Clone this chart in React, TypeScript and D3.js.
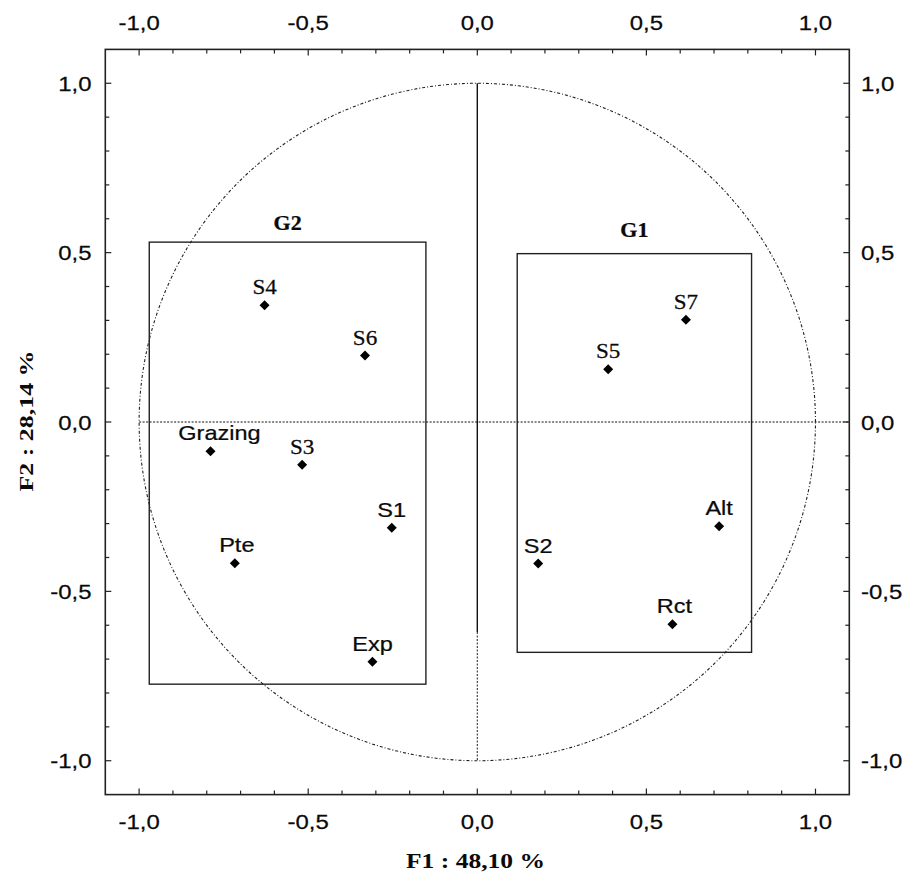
import React from "react";
import * as d3 from "d3";

const pointNames = ["S4", "S6", "Grazing", "S3", "S1", "Pte", "Exp", "S7", "S5", "Alt", "S2", "Rct"];
const pointF1 = [-0.629, -0.332, -0.789, -0.518, -0.253, -0.717, -0.31, 0.617, 0.387, 0.715, 0.18, 0.577];
const pointF2 = [0.345, 0.196, -0.086, -0.126, -0.312, -0.417, -0.708, 0.302, 0.156, -0.308, -0.418, -0.597];

const groupNames = ["G2", "G1"];
const groupX0 = [-0.97, 0.118];
const groupX1 = [-0.152, 0.811];
const groupY0 = [-0.774, -0.68];
const groupY1 = [0.531, 0.497];

const majorTicks = [-1.0, -0.5, 0.0, 0.5, 1.0];
const minorTicks = [-1.0, -0.9, -0.8, -0.7, -0.6, -0.5, -0.4, -0.3, -0.2, -0.1, 0.0, 0.1, 0.2, 0.3, 0.4, 0.5, 0.6, 0.7, 0.8, 0.9, 1.0];

const xTitle = "F1 : 48,10 %";
const yTitle = "F2 : 28,14 %";

const serifLabels = new Set(["S3", "S4", "S5", "S6", "S7"]);
const labelDx: Record<string, number> = { Grazing: 9, Pte: 2, Rct: 2 };

const W = 907;
const H = 875;
const SX = 1.14;
const SANS = "'Liberation Sans', Arial, sans-serif";
const SERIF = "'Liberation Serif', 'Times New Roman', serif";
const INK = "#0a0a0a";

const fmt = (v: number) => d3.format(".1f")(v).replace("−", "-").replace(".", ",");

function SText(props: { x: number; y: number; sx?: number; anchor?: string; size: number; family: string; weight?: string; children: React.ReactNode; dy?: string; }) {
  const { x, y, sx = SX, anchor = "middle", size, family, weight = "normal", children, dy } = props;
  return (
    <text
      transform={`translate(${x},${y}) scale(${sx},1)`}
      textAnchor={anchor}
      fontSize={size}
      fontFamily={family}
      fontWeight={weight}
      fill={INK}
      stroke={INK}
      strokeWidth={0.25}
      dy={dy}
    >
      {children}
    </text>
  );
}

export default function App() {
  const x = d3.scaleLinear().domain([-1.1, 1.1]).range([105.3, 849.3]);
  const y = d3.scaleLinear().domain([-1.1, 1.1]).range([794.6, 49.4]);
  const [xl, xr] = x.range();
  const [yb, yt] = y.range();

  const diamond = d3.symbol(d3.symbolSquare, 50)() as string;

  const circlePath = d3.line<number>()
    .x((a) => x(Math.cos(a)))
    .y((a) => y(Math.sin(a)))(d3.range(0, 361).map((d) => (d * Math.PI) / 180)) as string;

  const isMajor = (v: number) => majorTicks.some((m) => Math.abs(m - v) < 1e-9);

  return (
    <svg width={W} height={H} style={{ position: "absolute", left: 0, top: 0, background: "#fff" }}>
      <rect x={0} y={0} width={W} height={H} fill="#fff" />

      {/* unit circle */}
      <path d={circlePath} fill="none" stroke="#222" strokeWidth={1.1} strokeDasharray="3,2,1,2" />

      {/* horizontal zero line */}
      <line x1={x(-1)} x2={x(1.1)} y1={y(0)} y2={y(0)} stroke="#111" strokeWidth={1.1} strokeDasharray="2,1.5" />
      {/* vertical zero line */}
      <line x1={x(0)} x2={x(0)} y1={y(1)} y2={y(-0.62)} stroke="#111" strokeWidth={1.4} />
      <line x1={x(0)} x2={x(0)} y1={y(-0.62)} y2={y(-1)} stroke="#333" strokeWidth={1.1} strokeDasharray="2,1.5" />

      {/* group boxes */}
      {groupNames.map((g, i) => (
        <g key={g}>
          <rect
            x={x(groupX0[i])}
            y={y(groupY1[i])}
            width={x(groupX1[i]) - x(groupX0[i])}
            height={y(groupY0[i]) - y(groupY1[i])}
            fill="none"
            stroke="#222"
            strokeWidth={1.4}
          />
          <SText
            x={(x(groupX0[i]) + x(groupX1[i])) / 2}
            y={y(groupY1[i]) - (i === 0 ? 12 : 17)}
            size={20}
            family={SERIF}
            weight="bold"
            sx={1.1}
          >
            {g}
          </SText>
        </g>
      ))}

      {/* points */}
      {pointNames.map((n, i) => {
        const px = x(pointF1[i]);
        const py = y(pointF2[i]);
        const serif = serifLabels.has(n);
        return (
          <g key={n}>
            <path d={diamond} transform={`translate(${px},${py}) rotate(45)`} fill="#000" />
            <SText
              x={px + (labelDx[n] || 0)}
              y={py - 11}
              size={serif ? 22 : 21}
              family={serif ? SERIF : SANS}
              sx={serif ? 1.05 : 1.12}
            >
              {n}
            </SText>
          </g>
        );
      })}

      {/* frame */}
      <rect x={xl} y={yt} width={xr - xl} height={yb - yt} fill="none" stroke="#222" strokeWidth={1.6} />

      {/* ticks */}
      {minorTicks.map((t) => {
        const len = isMajor(t) ? 6 : 4;
        return (
          <g key={"t" + t} stroke="#222" strokeWidth={1.2}>
            <line x1={x(t)} x2={x(t)} y1={yt} y2={yt + len} />
            <line x1={x(t)} x2={x(t)} y1={yb} y2={yb - len} />
            <line x1={xl} x2={xl + len} y1={y(t)} y2={y(t)} />
            <line x1={xr} x2={xr - len} y1={y(t)} y2={y(t)} />
          </g>
        );
      })}

      {/* tick labels */}
      {majorTicks.map((t) => (
        <g key={"l" + t}>
          <SText x={x(t)} y={30} size={21} family={SANS}>{fmt(t)}</SText>
          <SText x={x(t)} y={828.5} size={21} family={SANS}>{fmt(t)}</SText>
          <SText x={91.5} y={y(t)} dy="0.36em" anchor="end" size={21} family={SANS}>{fmt(t)}</SText>
          <SText x={861} y={y(t)} dy="0.36em" anchor="start" size={21} family={SANS}>{fmt(t)}</SText>
        </g>
      ))}

      {/* axis titles */}
      <text
        x={475.5}
        y={868}
        textAnchor="middle"
        fontSize={22}
        fontFamily={SERIF}
        fontWeight="bold"
        fill={INK}
        textLength={139}
        lengthAdjust="spacingAndGlyphs"
      >
        {xTitle}
      </text>
      <text
        transform={`translate(33,421) rotate(-90)`}
        textAnchor="middle"
        fontSize={18}
        fontFamily={SERIF}
        fontWeight="bold"
        fill={INK}
        textLength={141}
        lengthAdjust="spacingAndGlyphs"
      >
        {yTitle}
      </text>
    </svg>
  );
}
